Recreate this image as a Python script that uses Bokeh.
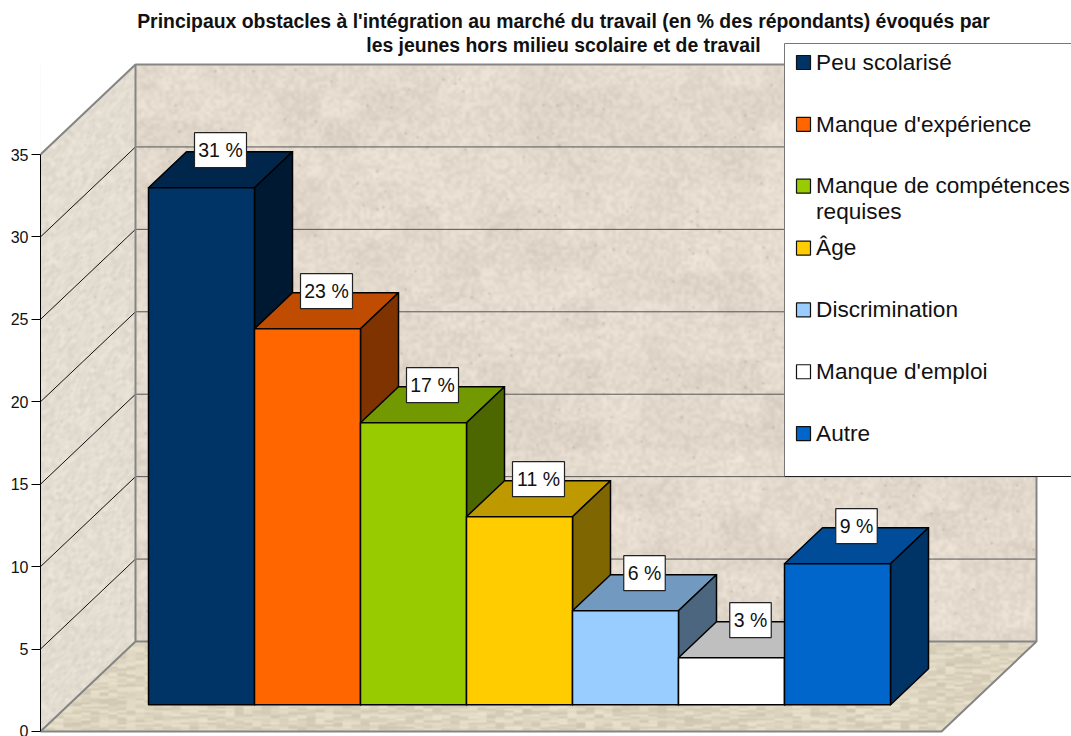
import numpy as np
from bokeh.plotting import figure
from bokeh.models import FixedTicker
from bokeh.core.properties import value
from bokeh.embed import file_html
from bokeh.resources import INLINE

title_lines = ["Principaux obstacles à l'intégration au marché du travail (en % des répondants) évoqués par",
               "les jeunes hors milieu scolaire et de travail"]
categories = ["Peu scolarisé", "Manque d'expérience", "Manque de compétences\nrequises", "Âge",
              "Discrimination", "Manque d'emploi", "Autre"]
bar_heights = [33, 24, 18, 12, 6, 3, 9]
bar_labels = ["31 %", "23 %", "17 %", "11 %", "6 %", "3 %", "9 %"]
bar_colors = ["#003366", "#ff6600", "#99cc00", "#ffcc00", "#99ccff", "#ffffff", "#0066cc"]
y_ticks = [0, 5, 10, 15, 20, 25, 30, 35]

FONT = "Liberation Sans"
W, H = 1071, 736

# page-pixel layout helpers
AX_X, AX_Y0, PX_PER_VAL = 40, 731, 577 / 35
BAR_X0, BAR_W = 148, 106
def X(px):
    return (px - BAR_X0) / BAR_W
def Y(py):
    return (AX_Y0 - py) / PX_PER_VAL

p = figure(width=W, height=H, output_backend="svg", toolbar_location=None,
           x_range=(X(AX_X), X(1071)), y_range=(Y(736), Y(0)),
           x_axis_location=None, min_border_left=AX_X, min_border_right=0,
           min_border_top=0, min_border_bottom=0)
p.grid.visible = False
p.outline_line_color = None
p.background_fill_color = "white"
p.border_fill_color = "white"

# stone texture for the walls and floor (deterministic hash, decorative only)
def hsh(a, b):
    v = np.sin(a * 12.9898 + b * 78.233) * 43758.5453
    return v - np.floor(v)
def smooth(a, n=1):
    for _ in range(n):
        a = (a + np.roll(a, 1, 0) + np.roll(a, -1, 0) + np.roll(a, 1, 1) + np.roll(a, -1, 1)) / 5
    return a
tx0, tx1, ty0, ty1 = 40, 1036, 64, 731
xx, yy = np.meshgrid(np.arange(tx0, tx1), np.arange(ty0, ty1))
back_n = smooth(hsh(xx // 3, yy // 3), 3) - .5
big_n = smooth(hsh(xx // 40, yy // 30), 14) - .5
spk = smooth((hsh(xx // 2, yy // 2 + 7) > .997).astype(float), 1)
left_n = smooth(hsh((xx + yy) // 2, (yy - xx) // 6), 2) - .5
floor_n = smooth(hsh(xx // 9, yy // 2), 1) - .5
is_left = (xx < 135) & (yy < 731 - (xx - 40) * 90 / 95)
is_floor = (yy >= 641) & ~is_left
rgb = np.zeros(xx.shape + (3,))
base_back, base_left, base_floor = (227, 218, 205), (228, 222, 210), (222, 213, 193)
for c in range(3):
    ch = base_back[c] + back_n * 20 + big_n * 10 - spk * 30
    ch = np.where(is_left, base_left[c] + left_n * 22 - spk * 20, ch)
    ch = np.where(is_floor, base_floor[c] + floor_n * 30, ch)
    rgb[..., c] = ch
rgb = np.clip(rgb, 0, 255).astype(np.uint32)
img = (255 << 24) | (rgb[..., 2] << 16) | (rgb[..., 1] << 8) | rgb[..., 0]
p.image_rgba(image=[img[::-1]], x=X(tx0), y=Y(ty1), dw=X(tx1) - X(tx0), dh=Y(ty0) - Y(ty1))
# white corners outside the box
p.patches([[X(39), X(135), X(39)], [X(941), X(1037), X(1037)]],
          [[Y(63), Y(63), Y(155)], [Y(732), Y(640), Y(732)]],
          fill_color="white", line_color=None)

# grid lines: val -> back wall and left wall
DEPTH_X, DEPTH_Y = 95, 90
for v in y_ticks[1:]:
    py = AX_Y0 - v * PX_PER_VAL
    if v < 35:
        p.line([X(135), X(1036)], [Y(py - DEPTH_Y)] * 2, line_color="#555555", line_width=1)
    p.line([X(AX_X), X(135)], [Y(py), Y(py - DEPTH_Y)], line_color="#111111" if v < 35 else "#858585",
           line_width=1 if v < 35 else 2)

# box outline
GREY = "#858585"
p.line([X(135), X(135), X(1036), X(1036), X(135), X(40), X(941), X(1036)],
       [Y(641), Y(64), Y(64), Y(641), Y(641), Y(731), Y(731), Y(641)],
       line_color=GREY, line_width=2)

# bars
def shade(col, f):
    r, g, b = int(col[1:3], 16), int(col[3:5], 16), int(col[5:7], 16)
    return "#%02x%02x%02x" % (int(r * f), int(g * f), int(b * f))
BASE_Y = Y(704.2)
BAR_SCALE = 47 / 3 / PX_PER_VAL
dx, dy = 38 / BAR_W, 36 / PX_PER_VAL
xs, ys, cols = [], [], []
for i, (h, c) in enumerate(zip(bar_heights, bar_colors)):
    t = BASE_Y + h * BAR_SCALE
    xs += [[i, i + dx, i + 1 + dx, i + 1], [i + 1, i + 1 + dx, i + 1 + dx, i + 1], [i, i + 1, i + 1, i]]
    ys += [[t, t + dy, t + dy, t], [t, t + dy, BASE_Y + dy, BASE_Y], [BASE_Y, BASE_Y, t, t]]
    cols += [shade(c, .75), shade(c, .5), c]
p.patches(xs, ys, fill_color=cols, line_color="black", line_width=1.5, line_join="round")

# data labels
lx = [i + .5 + dx / 2 for i in range(len(bar_heights))]
ly = [BASE_Y + h * BAR_SCALE + dy + 1.5 / PX_PER_VAL for h in bar_heights]
p.rect(lx, ly, width=[31 + 10.5 * len(s.replace(" %", "")) for s in bar_labels], height=35,
       width_units="screen", height_units="screen", fill_color="white", line_color="#222222", line_width=1.2)
p.text(lx, ly, text=bar_labels, text_font=value(FONT), text_font_size="19.5px", text_color="#111111",
       text_align="center", text_baseline="middle")

# legend box
p.quad(left=X(784), right=X(1075), top=Y(43), bottom=Y(476), fill_color="white", line_color=None)
p.line([X(784), X(784), X(1075)], [Y(476), Y(43), Y(43)], line_color="#777777", line_width=1)
p.line([X(784), X(1075)], [Y(476), Y(476)], line_color="#222222", line_width=1)
leg_py = [62 + 61.85 * i for i in range(len(categories))]
leg_text_py = [v - 12.6 - (0.8 if "\n" in c else 0) for v, c in zip(leg_py, categories)]
p.rect([X(803)] * len(categories), [Y(v) for v in leg_py], width=14, height=14,
       width_units="screen", height_units="screen", fill_color=bar_colors, line_color="#111111", line_width=1.2)
p.text([X(815.6)] * len(categories), [Y(v) for v in leg_text_py], text=categories, text_font=value(FONT),
       text_font_size="22.6px", text_color="#111111", text_align="left", text_baseline="top",
       text_line_height=1.05)

# title
p.text([X(563)] * 2, [Y(20.5), Y(44.5)], text=title_lines, text_font=value(FONT), text_font_style="bold",
       text_font_size="19.4px", text_color="#111111", text_align="center", text_baseline="middle")

# axis
ax = p.yaxis[0]
ax.ticker = FixedTicker(ticks=y_ticks)
ax.bounds = (0, 35)
ax.axis_line_color = "black"
ax.major_tick_line_color = "black"
ax.major_tick_out = 9
ax.major_tick_in = 0
ax.minor_tick_line_color = None
ax.major_label_standoff = 3
ax.major_label_text_font = FONT
ax.major_label_text_font_size = "16px"
ax.major_label_text_color = "#111111"

open("out.html", "w").write(file_html(p, INLINE))
